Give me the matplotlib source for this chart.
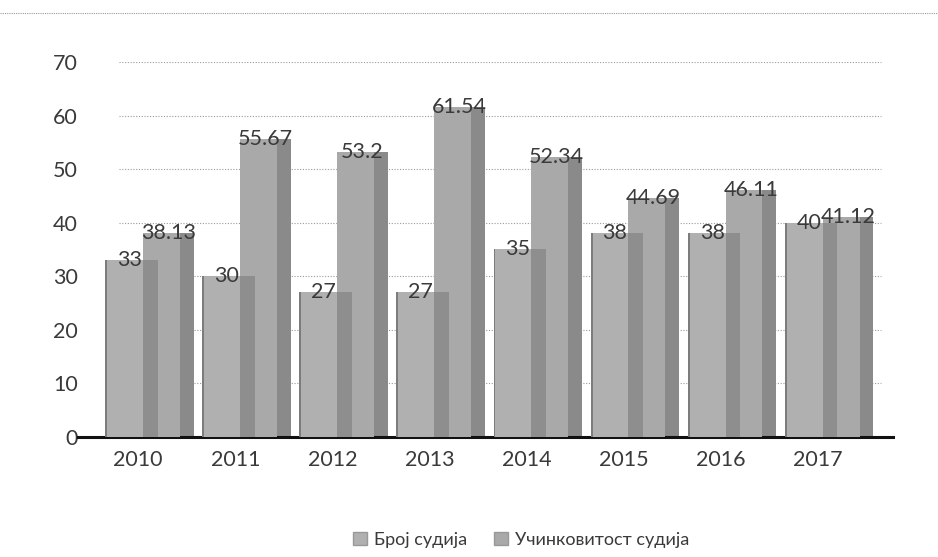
import numpy as np
import matplotlib.pyplot as plt
from matplotlib.patches import Patch

plt.rcParams['font.family'] = ['Lato', 'Noto Sans', 'DejaVu Sans']

# Подаци
years = ['2010', '2011', '2012', '2013', '2014', '2015', '2016', '2017']
broj_sudija = [33, 30, 27, 27, 35, 38, 38, 40]
ucinkovitost = [38.13, 55.67, 53.2, 61.54, 52.34, 44.69, 46.11, 41.12]
broj_labels = ['33', '30', '27', '27', '35', '38', '38', '40']
ucin_labels = ['38.13', '55.67', '53.2', '61.54', '52.34', '44.69', '46.11', '41.12']
yticks = [0, 10, 20, 30, 40, 50, 60, 70]

front1 = '#b0b0b0'
side1 = '#8e8e8e'
front2 = '#a9a9a9'
side2 = '#8a8a8a'
txt = '#3a3a3a'

fig = plt.figure(figsize=(9.38, 5.57), dpi=100)
ax = fig.add_axes([78 / 938, 1 - 437 / 557, (893 - 78) / 938, (437 - 62) / 557])

x = np.arange(len(years))

# "3Д" стубови: предња страна + тамнија бочна страна
ax.bar(x + 0.41, ucinkovitost, width=0.14, align='edge', color=side2, zorder=2)
ax.bar(x + 0.03, ucinkovitost, width=0.38, align='edge', color=front2, zorder=3)
ax.bar(x + 0.03, broj_sudija, width=0.15, align='edge', color=side1, zorder=4)
ax.bar(x - 0.36, broj_sudija, width=0.39, align='edge', color=front1, zorder=5)
# тамнија лева ивица стубова
ax.bar(x - 0.36, broj_sudija, width=0.02, align='edge', color='#7c7c7c', zorder=6)

for xi, v, lab in zip(x, broj_sudija, broj_labels):
    ax.text(xi + 0.02, v, lab, ha='right', va='center', fontsize=15.5, color=txt, zorder=10)
for xi, v, lab in zip(x, ucinkovitost, ucin_labels):
    ax.text(xi + 0.29, v, lab, ha='center', va='center', fontsize=15.5, color=txt, zorder=10)

ax.set_xlim(-0.64, 7.755)
ax.set_ylim(0, 70)
ax.set_yticks(yticks)
ax.set_xticks(x - 0.02)
ax.set_xticklabels(years)
ax.tick_params(axis='both', length=0, labelsize=15.5, labelcolor=txt, pad=9)
ax.tick_params(axis='y', pad=0)

for yv in yticks[1:]:
    ax.axhline(yv, xmin=0.05, xmax=0.985, color='#9a9a9a', lw=0.8, ls=(0, (1, 1.5)), zorder=1)

for s in ['top', 'right', 'left']:
    ax.spines[s].set_visible(False)
ax.spines['bottom'].set_linewidth(2.2)
ax.spines['bottom'].set_color('#111111')

# испрекидана линија на врху слике
fig.add_artist(plt.Line2D([0.0, 1.0], [1 - 13 / 557, 1 - 13 / 557], color='#999999',
                          lw=0.8, ls=(0, (1, 1))))

handles = [Patch(facecolor=front1, edgecolor='#999999'), Patch(facecolor=front2, edgecolor='#999999')]
fig.legend(handles, ['Број судија', 'Учинковитост судија'], loc='center',
           bbox_to_anchor=(521 / 938, 1 - 540 / 557), ncol=2, frameon=False,
           fontsize=13, handlelength=0.75, handleheight=0.75, columnspacing=1.5,
           handletextpad=0.4, labelcolor=txt)

fig.savefig('out.png', dpi=100)
